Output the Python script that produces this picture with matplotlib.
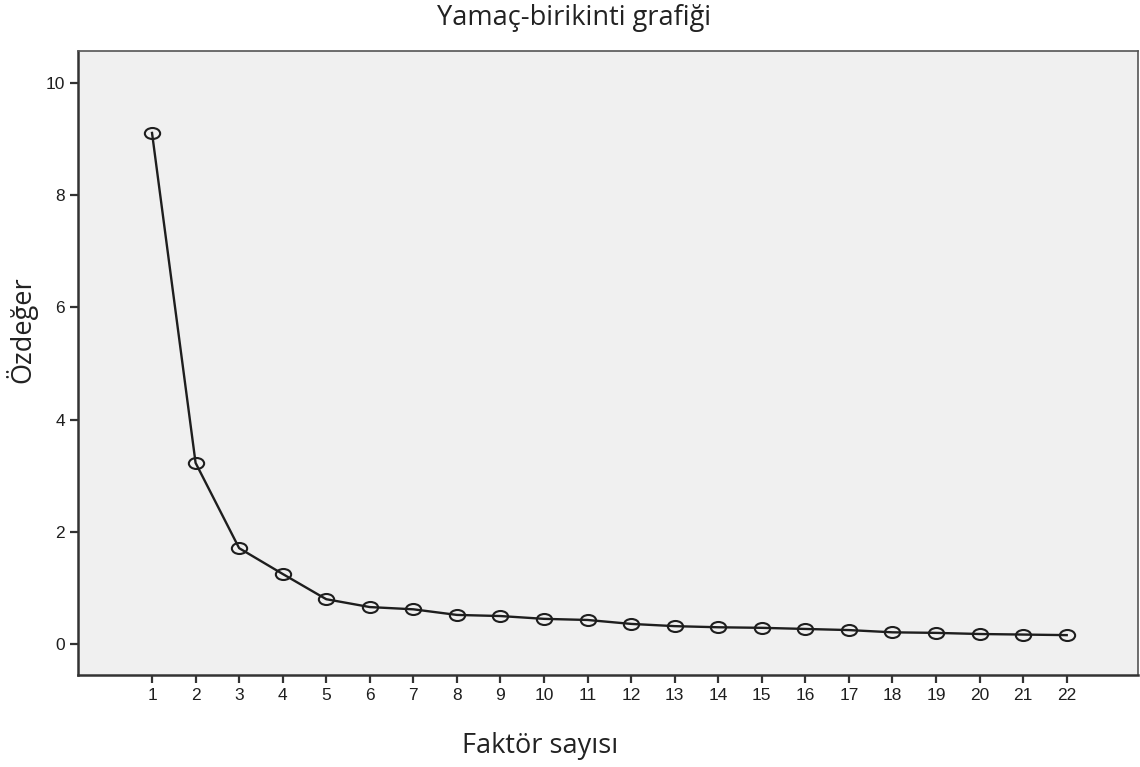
import matplotlib
matplotlib.use('Agg')
import matplotlib.pyplot as plt
from matplotlib.path import Path

# Scree plot data
factors = list(range(1, 23))
eigenvalues = [9.11, 3.23, 1.71, 1.25, 0.80, 0.66, 0.62, 0.52, 0.50, 0.45, 0.43,
               0.36, 0.32, 0.30, 0.29, 0.27, 0.25, 0.21, 0.20, 0.18, 0.17, 0.16]
y_ticks = [0, 2, 4, 6, 8, 10]

# slightly flattened open circle, like the SPSS marker
circ = Path.unit_circle()
ellipse = Path(circ.vertices * [1.0, 0.72], circ.codes)

fig = plt.figure(figsize=(11.4, 7.67), dpi=100)
ax = fig.add_axes([0.0684, 0.12, 0.9296, 0.8135])
ax.set_facecolor('#f0f0f0')

ax.plot(factors, eigenvalues, color='#1e1e1e', lw=1.7,
        marker=ellipse, markersize=11, markerfacecolor='none',
        markeredgecolor='#1e1e1e', markeredgewidth=1.5)

ax.set_xlim(-0.7, 23.63)
ax.set_ylim(-0.55, 10.57)
ax.set_xticks(factors)
ax.set_yticks(y_ticks)
ax.tick_params(direction='out', length=6, width=1.6, color='#333333',
               labelsize=12.5, labelcolor='#1e1e1e')
for lab in ax.get_xticklabels() + ax.get_yticklabels():
    lab.set_family('Liberation Sans')

for side in ['left', 'bottom']:
    ax.spines[side].set_linewidth(1.8)
    ax.spines[side].set_color('#333333')
for side in ['top', 'right']:
    ax.spines[side].set_linewidth(1.2)
    ax.spines[side].set_color('#555555')

fig.text(0.504, 0.976, 'Yamaç-birikinti grafiği', ha='center', va='center',
         fontsize=19.5, family='Open Sans', color='#222222')
fig.text(0.474, 0.028, 'Faktör sayısı', ha='center', va='center',
         fontsize=19.5, family='Open Sans', color='#222222')
fig.text(0.019, 0.570, 'Özdeğer', ha='center', va='center', rotation=90,
         fontsize=19.5, family='Open Sans', color='#222222')

fig.savefig('out.png', dpi=100)
